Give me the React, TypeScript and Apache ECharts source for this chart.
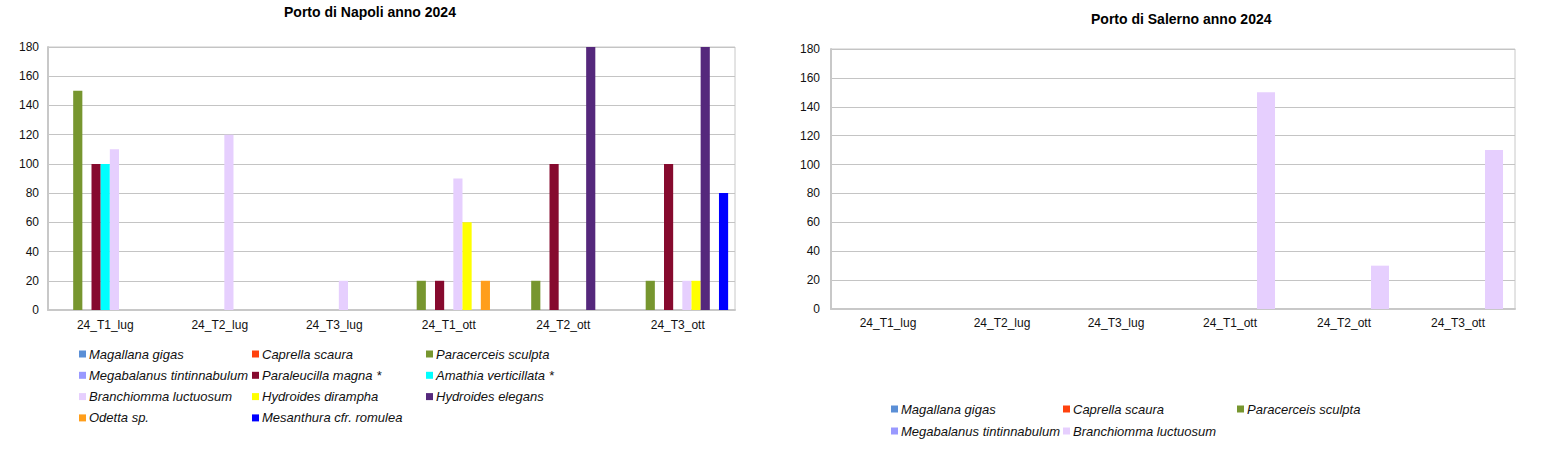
import * as echarts from "echarts";
import React, { useEffect, useRef } from "react";

const categories = ["24_T1_lug", "24_T2_lug", "24_T3_lug", "24_T1_ott", "24_T2_ott", "24_T3_ott"];
const yTicks = { min: 0, max: 180, interval: 20 };

// Porto di Napoli
const napoliSpecies = [
  "Magallana gigas",
  "Caprella scaura",
  "Paracerceis sculpta",
  "Megabalanus tintinnabulum",
  "Paraleucilla magna *",
  "Amathia verticillata *",
  "Branchiomma luctuosum",
  "Hydroides dirampha",
  "Hydroides elegans",
  "Odetta sp.",
  "Mesanthura cfr. romulea",
];
const napoliValues: (number | null)[][] = [
  [null, null, null, null, null, null],
  [null, null, null, null, null, null],
  [150, null, null, 20, 20, 20],
  [null, null, null, null, null, null],
  [100, null, null, 20, 100, 100],
  [100, null, null, null, null, null],
  [110, 120, 20, 90, null, 20],
  [null, null, null, 60, null, 20],
  [null, null, null, null, 180, 180],
  [null, null, null, 20, null, null],
  [null, null, null, null, null, 80],
];

// Porto di Salerno
const salernoSpecies = [
  "Magallana gigas",
  "Caprella scaura",
  "Paracerceis sculpta",
  "Megabalanus tintinnabulum",
  "Branchiomma luctuosum",
];
const salernoValues: (number | null)[][] = [
  [null, null, null, null, null, null],
  [null, null, null, null, null, null],
  [null, null, null, null, null, null],
  [null, null, null, null, null, null],
  [null, null, null, 150, 30, 110],
];

const speciesColors: Record<string, string> = {
  "Magallana gigas": "#5b8fd6",
  "Caprella scaura": "#ff420e",
  "Paracerceis sculpta": "#77962f",
  "Megabalanus tintinnabulum": "#9999ff",
  "Paraleucilla magna *": "#860a2e",
  "Amathia verticillata *": "#00ffff",
  "Branchiomma luctuosum": "#e6cffe",
  "Hydroides dirampha": "#ffff00",
  "Hydroides elegans": "#55287c",
  "Odetta sp.": "#ff9e1b",
  "Mesanthura cfr. romulea": "#0000ff",
};

const FONT = "'Liberation Sans', Arial, sans-serif";

const makeXAxis = (gridIndex: number, margin: number) => ({
  type: "category",
  gridIndex,
  data: categories,
  axisTick: { show: false },
  axisLine: { lineStyle: { color: "#c8c8c8", width: 2 } },
  axisLabel: { color: "#111", fontSize: 12, fontFamily: FONT, margin, interval: 0 },
});

const makeYAxis = (gridIndex: number, margin: number) => ({
  type: "value",
  gridIndex,
  ...yTicks,
  axisTick: { show: false },
  axisLine: { show: true, lineStyle: { color: "#c8c8c8", width: 2 } },
  axisLabel: { color: "#111", fontSize: 12, fontFamily: FONT, margin },
  splitLine: { lineStyle: { color: "#c4c4c4", width: 1 } },
});

const makeLegend = (names: string[], left: number, top: number, rowStep: number) => ({
  data: names,
  orient: "vertical",
  left,
  top,
  padding: 0,
  icon: "rect",
  itemWidth: 7,
  itemHeight: 7,
  itemGap: rowStep - 16,
  selectedMode: false,
  textStyle: {
    fontSize: 13,
    fontStyle: "italic",
    fontFamily: FONT,
    color: "#111",
    lineHeight: 16,
    padding: [0, 0, 0, -2],
  },
});

const App: React.FC = () => {
  const chartRef = useRef<HTMLDivElement | null>(null);

  useEffect(() => {
    const chart = echarts.init(chartRef.current, null, { renderer: "svg" });

    const napoliSeries = napoliSpecies.map((name, i) => ({
      name,
      type: "bar",
      xAxisIndex: 0,
      yAxisIndex: 0,
      barGap: "0%",
      barCategoryGap: "12%",
      itemStyle: { color: speciesColors[name] },
      data: napoliValues[i],
    }));

    const salernoSeries = salernoSpecies.map((name, i) => ({
      name,
      type: "bar",
      xAxisIndex: 1,
      yAxisIndex: 1,
      barGap: "0%",
      barCategoryGap: "21%",
      itemStyle: { color: speciesColors[name] },
      data: salernoValues[i],
    }));

    chart.setOption({
      animation: false,
      title: [
        {
          text: "Porto di Napoli anno 2024",
          left: 284,
          top: 5,
          padding: 0,
          textStyle: { fontSize: 14, fontWeight: "bold", fontFamily: FONT, color: "#000" },
        },
        {
          text: "Porto di Salerno anno 2024",
          left: 1091,
          top: 12,
          padding: 0,
          textStyle: { fontSize: 14, fontWeight: "bold", fontFamily: FONT, color: "#000" },
        },
      ],
      legend: [
        makeLegend(napoliSpecies.filter((_, i) => i % 3 === 0), 79, 346, 21.3),
        makeLegend(napoliSpecies.filter((_, i) => i % 3 === 1), 252, 346, 21.3),
        makeLegend(napoliSpecies.filter((_, i) => i % 3 === 2), 426, 346, 21.3),
        makeLegend(salernoSpecies.filter((_, i) => i % 3 === 0), 891, 401, 22),
        makeLegend(salernoSpecies.filter((_, i) => i % 3 === 1), 1063, 401, 22),
        makeLegend(salernoSpecies.filter((_, i) => i % 3 === 2), 1237, 401, 22),
      ],
      grid: [
        { left: 48, top: 47, width: 687, height: 263, show: true, borderColor: "#c8c8c8", borderWidth: 1 },
        { left: 831, top: 49, width: 684, height: 260, show: true, borderColor: "#c8c8c8", borderWidth: 1 },
      ],
      xAxis: [makeXAxis(0, 9), makeXAxis(1, 8)],
      yAxis: [makeYAxis(0, 9), makeYAxis(1, 11)],
      series: [...napoliSeries, ...salernoSeries],
    });

    return () => {
      chart.dispose();
    };
  }, []);

  return (
    <div
      ref={chartRef}
      style={{ position: "absolute", left: 0, top: 0, width: "1562px", height: "458px", background: "#fff" }}
    ></div>
  );
};

export default App;
